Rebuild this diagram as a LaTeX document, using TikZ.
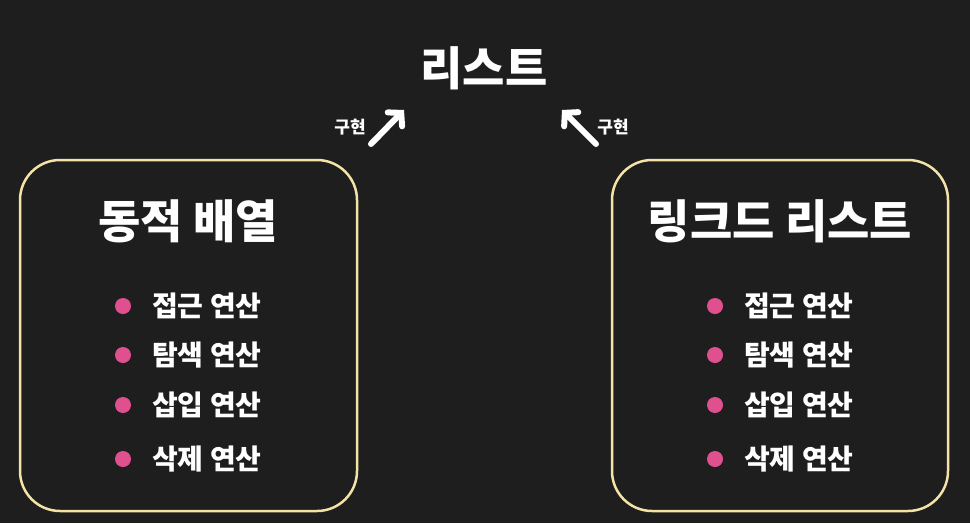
\documentclass[tikz,border=0pt]{standalone}
\usepackage{fontspec}
\setmainfont{Noto Sans CJK KR}
\usetikzlibrary{arrows.meta}

\definecolor{bgcol}{HTML}{1E1E1E}
\definecolor{framecol}{HTML}{F3E3A6}
\definecolor{dotcol}{HTML}{E0508F}

\tikzset{
  heading/.style={text=white, font=\fontsize{46}{50}\selectfont\bfseries, inner sep=0pt},
  boxframe/.style={draw=framecol, line width=2.5pt, rounded corners=40pt},
  item/.style={text=white, anchor=west, font=\fontsize{28}{32}\selectfont\bfseries, inner sep=0pt},
  dot/.style={circle, fill=dotcol, minimum size=16pt, inner sep=0pt},
  impl/.style={text=white, font=\fontsize{17}{20}\selectfont\bfseries, inner sep=0pt},
  implarrow/.style={white, line width=6pt, line cap=round, -{Straight Barb[length=9pt,width=20pt,line cap=round]}}
}

\begin{document}
\begin{tikzpicture}[x=1pt, y=-1pt]
  % background
  \fill[bgcol] (0,0) rectangle (970,523);

  % top title
  \node[heading] (list) at (484,68) {리스트};

  % boxes
  \draw[boxframe] (20,160) rectangle (357,511);
  \draw[boxframe] (612,160) rectangle (948,511);
  \node[heading] (dyn) at (188,221) {동적 배열};
  \node[heading] (linked) at (780,221) {링크드 리스트};

  % operations
  \foreach \y/\op [count=\i] in {306/접근, 355/탐색, 405/삽입, 459/삭제} {
    \node[dot] (ldot\i) at (123,\y) {};
    \node[item] (lop\i) at (152,\y) {\op{} 연산};
    \node[dot] (rdot\i) at (715,\y) {};
    \node[item] (rop\i) at (744,\y) {\op{} 연산};
  }

  % implements arrows
  \coordinate (la) at (371,144);
  \coordinate (lb) at (404,110);
  \coordinate (ra) at (596,144);
  \coordinate (rb) at (562,110);
  \draw[implarrow] (la) -- (lb);
  \draw[implarrow] (ra) -- (rb);
  \node[impl] (limpl) at (350,127) {구현};
  \node[impl] (rimpl) at (613,127) {구현};
\end{tikzpicture}
\end{document}
